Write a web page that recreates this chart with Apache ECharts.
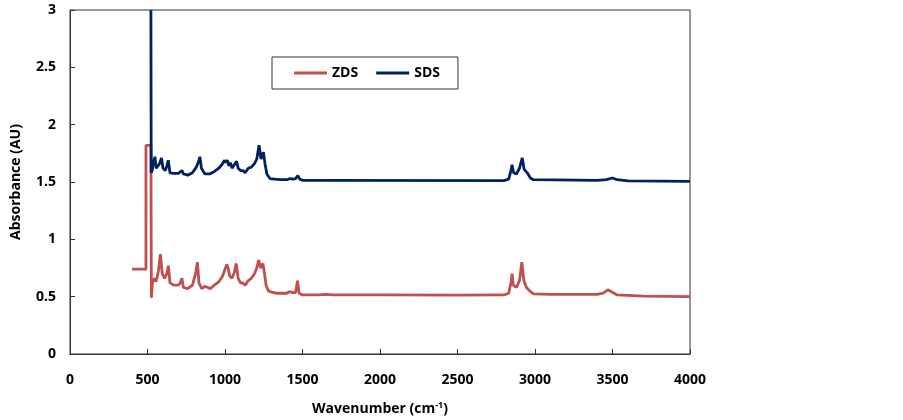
<!DOCTYPE html>
<html>
<head>
<meta charset="utf-8">
<script src="https://cdn.jsdelivr.net/npm/echarts@6/dist/echarts.min.js"></script>
<style>
html,body{margin:0;padding:0;background:#fff;}
#chart{width:903px;height:420px;}
</style>
</head>
<body>
<div id="chart"></div>
<script>
const seriesNames = ['ZDS', 'SDS'];
const xTicks = [0, 500, 1000, 1500, 2000, 2500, 3000, 3500, 4000];
const yTicks = [0, 0.5, 1, 1.5, 2, 2.5, 3];

const zdsData = [
[400,0.74],[490,0.74],[490,1.82],[522,1.82],[525,0.49],[532,0.62],[545,0.66],[555,0.63],[570,0.72],[583,0.87],[595,0.70],[610,0.66],[625,0.70],[635,0.77],[645,0.62],[670,0.60],[700,0.60],[712,0.62],[722,0.66],[732,0.58],[760,0.57],[790,0.60],[810,0.70],[822,0.80],[832,0.62],[850,0.57],[870,0.59],[890,0.58],[905,0.57],[930,0.60],[960,0.63],[985,0.68],[1000,0.74],[1012,0.78],[1022,0.74],[1030,0.68],[1045,0.66],[1060,0.71],[1072,0.79],[1085,0.66],[1100,0.62],[1115,0.62],[1130,0.60],[1150,0.64],[1170,0.66],[1190,0.70],[1205,0.75],[1217,0.82],[1230,0.75],[1245,0.79],[1255,0.70],[1265,0.60],[1280,0.55],[1300,0.54],[1330,0.53],[1360,0.53],[1400,0.53],[1415,0.545],[1425,0.56],[1435,0.535],[1455,0.535],[1468,0.64],[1478,0.53],[1500,0.515],[1600,0.515],[1650,0.52],[1700,0.515],[2000,0.515],[2500,0.513],[2800,0.515],[2830,0.53],[2845,0.62],[2852,0.70],[2860,0.60],[2880,0.58],[2900,0.64],[2915,0.80],[2928,0.64],[2945,0.58],[2955,0.585],[2965,0.55],[2990,0.525],[3100,0.52],[3400,0.52],[3440,0.53],[3470,0.56],[3490,0.545],[3530,0.515],[3700,0.505],[4000,0.50]
];

const sdsData = [
[522,3.0],[524,1.58],[530,1.60],[540,1.68],[548,1.72],[556,1.62],[565,1.63],[578,1.66],[590,1.71],[600,1.62],[615,1.60],[625,1.64],[634,1.69],[645,1.58],[670,1.575],[700,1.575],[712,1.58],[722,1.60],[732,1.57],[760,1.56],[790,1.58],[815,1.63],[830,1.68],[838,1.72],[848,1.62],[870,1.57],[900,1.57],[930,1.59],[960,1.62],[985,1.66],[995,1.69],[1005,1.67],[1015,1.69],[1025,1.64],[1035,1.67],[1045,1.62],[1060,1.65],[1075,1.68],[1085,1.62],[1100,1.60],[1115,1.60],[1130,1.58],[1150,1.62],[1170,1.63],[1190,1.66],[1205,1.70],[1220,1.82],[1232,1.70],[1248,1.76],[1258,1.66],[1270,1.57],[1290,1.53],[1320,1.525],[1360,1.52],[1400,1.52],[1420,1.53],[1430,1.545],[1440,1.525],[1455,1.53],[1470,1.555],[1482,1.525],[1500,1.515],[1650,1.515],[1660,1.52],[1680,1.515],[2800,1.512],[2830,1.525],[2845,1.60],[2852,1.65],[2862,1.58],[2880,1.57],[2900,1.62],[2918,1.71],[2930,1.61],[2950,1.58],[2958,1.58],[2970,1.535],[2990,1.52],[3400,1.515],[3460,1.52],[3500,1.535],[3530,1.52],[3600,1.51],[4000,1.505]
];

const colors = ['#C0504D', '#002060'];
const FONT = '"Open Sans", "Noto Sans", sans-serif';

const chart = echarts.init(document.getElementById('chart'), null, {renderer: 'canvas'});
chart.setOption({
  animation: false,
  backgroundColor: '#fff',
  grid: {left: 70, right: 213, top: 10, bottom: 66, containLabel: false, outerBoundsMode: 'none',
         show: true, borderColor: '#333', borderWidth: 1, backgroundColor: 'transparent'},
  legend: {
    data: seriesNames.map((n) => ({name: n, icon: 'rect'})),
    left: 272, top: 57,
    itemWidth: 33, itemHeight: 3, itemGap: 18,
    padding: [9, 18, 9, 22],
    borderColor: '#333', borderWidth: 1,
    textStyle: {fontFamily: FONT, fontWeight: 'bold', fontSize: 14, color: '#000'}
  },
  xAxis: {
    type: 'value', min: xTicks[0], max: xTicks[xTicks.length - 1], interval: 500,
    name: 'Wavenumber (cm{sup|-1})', nameLocation: 'middle', nameGap: 47,
    nameTextStyle: {fontFamily: FONT, fontWeight: 'bold', fontSize: 14, color: '#000',
      rich: {sup: {fontFamily: FONT, fontWeight: 'bold', fontSize: 9, color: '#000', verticalAlign: 'top', padding: [0, 0, 8, 0]}}},
    axisLine: {show: true, lineStyle: {color: '#333', width: 1}},
    axisTick: {show: true, inside: true, length: 5, lineStyle: {color: '#333'}},
    axisLabel: {fontFamily: FONT, fontWeight: 'bold', fontSize: 14, color: '#000', margin: 19,
      formatter: (v) => String(v)},
    splitLine: {show: false}
  },
  yAxis: {
    type: 'value', min: yTicks[0], max: yTicks[yTicks.length - 1], interval: 0.5,
    name: 'Absorbance (AU)', nameLocation: 'middle', nameGap: 47, nameRotate: 90,
    nameTextStyle: {fontFamily: FONT, fontWeight: 'bold', fontSize: 14, color: '#000'},
    axisLine: {show: true, lineStyle: {color: '#333', width: 1}},
    axisTick: {show: true, inside: true, length: 5, lineStyle: {color: '#333'}},
    axisLabel: {fontFamily: FONT, fontWeight: 'bold', fontSize: 14, color: '#000', margin: 14,
      formatter: (v) => String(v)},
    splitLine: {show: false}
  },
  series: [
    {name: seriesNames[0], type: 'line', data: zdsData, showSymbol: false, symbol: 'none', smooth: false,
     lineStyle: {color: colors[0], width: 2.8}, itemStyle: {color: colors[0]}},
    {name: seriesNames[1], type: 'line', data: sdsData, showSymbol: false, symbol: 'none', smooth: false,
     lineStyle: {color: colors[1], width: 2.8}, itemStyle: {color: colors[1]}}
  ]
});
</script>
</body>
</html>
